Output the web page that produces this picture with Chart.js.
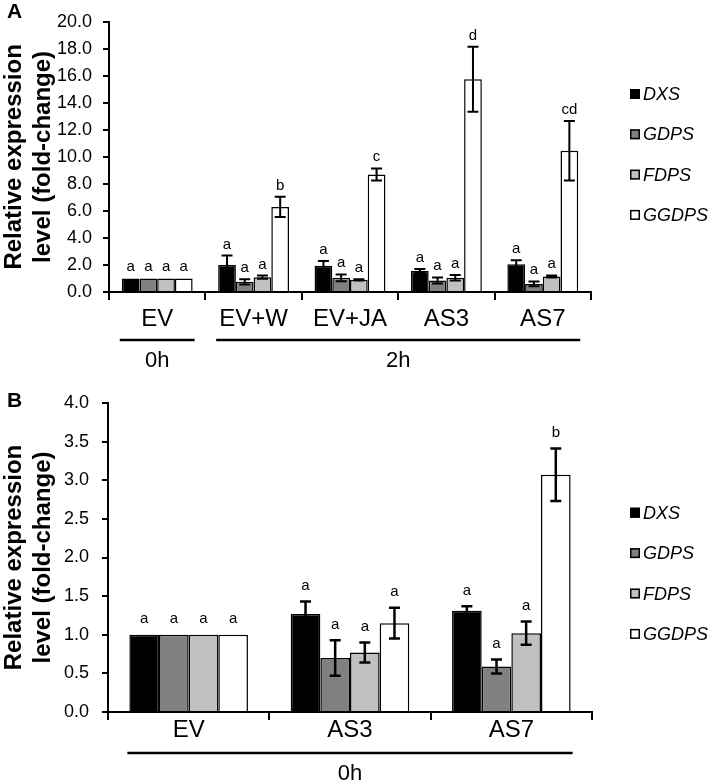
<!DOCTYPE html>
<html>
<head>
<meta charset="utf-8">
<script src="https://cdn.jsdelivr.net/npm/chart.js@4.4.1/dist/chart.umd.min.js"></script>
<style>
  body { margin: 0; background: #fff; }
  canvas { display: block; }
</style>
</head>
<body>
<canvas id="chartA" width="711" height="375"></canvas>
<canvas id="chartB" width="711" height="408"></canvas>
<script>
// genes (series) shared by both panels
const genes = ['DXS', 'GDPS', 'FDPS', 'GGDPS'];
const geneColors = ['#000000', '#808080', '#c0c0c0', '#ffffff'];

// Panel A
const catsA = ['EV', 'EV+W', 'EV+JA', 'AS3', 'AS7'];
const dxsA = [1.0, 2.0, 1.95, 1.55, 2.05];
const gdpsA = [1.0, 0.75, 1.05, 0.85, 0.6];
const fdpsA = [1.0, 1.1, 0.9, 1.05, 1.15];
const ggdpsA = [1.0, 6.3, 8.7, 15.75, 10.45];
const dxsErrA = [0, 0.7, 0.35, 0.15, 0.3];
const gdpsErrA = [0, 0.2, 0.25, 0.23, 0.18];
const fdpsErrA = [0, 0.12, 0.05, 0.2, 0.08];
const ggdpsErrA = [0, 0.75, 0.45, 2.4, 2.2];
const dxsLetA = ['a', 'a', 'a', 'a', 'a'];
const gdpsLetA = ['a', 'a', 'a', 'a', 'a'];
const fdpsLetA = ['a', 'a', 'a', 'a', 'a'];
const ggdpsLetA = ['a', 'b', 'c', 'd', 'cd'];
const groupNamesA = ['0h', '2h'];
const groupFromA = [0, 1];
const groupToA = [0, 4];

// Panel B
const catsB = ['EV', 'AS3', 'AS7'];
const dxsB = [1.0, 1.27, 1.31];
const gdpsB = [1.0, 0.7, 0.59];
const fdpsB = [1.0, 0.77, 1.02];
const ggdpsB = [1.0, 1.15, 3.07];
const dxsErrB = [0, 0.16, 0.06];
const gdpsErrB = [0, 0.23, 0.09];
const fdpsErrB = [0, 0.13, 0.15];
const ggdpsErrB = [0, 0.2, 0.34];
const dxsLetB = ['a', 'a', 'a'];
const gdpsLetB = ['a', 'a', 'a'];
const fdpsLetB = ['a', 'a', 'a'];
const ggdpsLetB = ['a', 'a', 'b'];
const groupNamesB = ['0h'];
const groupFromB = [0];
const groupToB = [2];

const FONT = "'Liberation Sans', Arial, Helvetica, sans-serif";
Chart.defaults.font.family = FONT;
Chart.defaults.color = '#000';

// error bars, significance letters, group lines, legend and panel letter
const extrasPlugin = {
  id: 'extras',
  afterDatasetsDraw(chart, args, opts) {
    const ctx = chart.ctx;
    const yScale = chart.scales.y;
    const area = chart.chartArea;
    ctx.save();

    chart.data.datasets.forEach((ds, di) => {
      const meta = chart.getDatasetMeta(di);
      meta.data.forEach((bar, i) => {
        const v = ds.data[i];
        const e = ds.errors[i];
        let top = yScale.getPixelForValue(v);
        if (e > 0) {
          const yHi = yScale.getPixelForValue(v + e);
          const yLo = yScale.getPixelForValue(v - e);
          ctx.strokeStyle = '#000';
          ctx.lineWidth = opts.errWidth;
          ctx.beginPath();
          ctx.moveTo(bar.x, yHi); ctx.lineTo(bar.x, yLo);
          ctx.moveTo(bar.x - opts.cap, yHi); ctx.lineTo(bar.x + opts.cap, yHi);
          ctx.moveTo(bar.x - opts.cap, yLo); ctx.lineTo(bar.x + opts.cap, yLo);
          ctx.stroke();
          top = yHi;
        }
        ctx.fillStyle = '#000';
        ctx.font = '15px ' + FONT;
        ctx.textAlign = 'center';
        ctx.textBaseline = 'alphabetic';
        ctx.fillText(ds.letters[i], bar.x, top - opts.letterGap);
      });
    });

    // time point groups under the category labels
    const first = chart.getDatasetMeta(0).data;
    const last = chart.getDatasetMeta(chart.data.datasets.length - 1).data;
    opts.groups.names.forEach((name, g) => {
      const b0 = first[opts.groups.from[g]];
      const b1 = last[opts.groups.to[g]];
      const x0 = b0.x - b0.width / 2 - 2;
      const x1 = b1.x + b1.width / 2 + 2;
      const ly = area.bottom + opts.groupLine;
      ctx.strokeStyle = '#000';
      ctx.lineWidth = 2.5;
      ctx.beginPath();
      ctx.moveTo(x0, ly); ctx.lineTo(x1, ly);
      ctx.stroke();
      ctx.font = '22px ' + FONT;
      ctx.textAlign = 'center';
      ctx.textBaseline = 'middle';
      ctx.fillText(name, (x0 + x1) / 2, area.bottom + opts.groupText);
    });

    // legend
    chart.data.datasets.forEach((ds, di) => {
      const cy = opts.legendY + di * opts.legendStep;
      ctx.fillStyle = ds.backgroundColor;
      ctx.fillRect(opts.legendX, cy - 5, 10, 10);
      ctx.strokeStyle = '#000';
      ctx.lineWidth = 1.5;
      ctx.strokeRect(opts.legendX + 0.75, cy - 4.25, 8.5, 8.5);
      ctx.fillStyle = '#000';
      ctx.font = 'italic 18px ' + FONT;
      ctx.textAlign = 'left';
      ctx.textBaseline = 'middle';
      ctx.fillText(ds.label, opts.legendX + 13, cy + 1);
    });

    // panel letter
    ctx.font = 'bold 21px ' + FONT;
    ctx.textAlign = 'left';
    ctx.textBaseline = 'middle';
    ctx.fillText(opts.panel, 7, opts.panelY);

    ctx.restore();
  }
};

function makeChart(id, cats, values, errors, letters, yMax, yStep, cfg) {
  const datasets = genes.map((g, i) => ({
    label: g,
    data: values[i],
    errors: errors[i],
    letters: letters[i],
    backgroundColor: geneColors[i],
    borderColor: '#000',
    borderWidth: 1.5,
    categoryPercentage: 0.735,
    barPercentage: 1.0
  }));
  return new Chart(document.getElementById(id), {
    type: 'bar',
    data: { labels: cats, datasets: datasets },
    plugins: [extrasPlugin],
    options: {
      responsive: false,
      animation: false,
      devicePixelRatio: 1,
      layout: { padding: { top: cfg.padTop, right: cfg.padRight, left: 0, bottom: 0 } },
      plugins: {
        legend: { display: false },
        tooltip: { enabled: false },
        extras: cfg.extras
      },
      scales: {
        x: {
          afterFit: s => { s.height = cfg.xHeight; },
          grid: { offset: true, drawOnChartArea: false, drawTicks: true, tickLength: 8, color: '#000', lineWidth: 2 },
          border: { display: true, color: '#000', width: 2 },
          ticks: { font: { size: 24 }, color: '#000', padding: cfg.xPad, maxRotation: 0, autoSkip: false }
        },
        y: {
          min: 0,
          max: yMax,
          afterFit: s => { s.width = cfg.yWidth; },
          grid: { drawOnChartArea: false, drawTicks: true, tickLength: 6, color: '#000', lineWidth: 2 },
          border: { display: true, color: '#000', width: 2 },
          ticks: {
            stepSize: yStep,
            font: { size: 18 },
            color: '#000',
            padding: cfg.yPad,
            callback: v => Number(v).toFixed(1)
          },
          title: {
            display: true,
            text: ['Relative expression', 'level (fold-change)'],
            font: { size: 24, weight: 'bold', lineHeight: 1.2 },
            color: '#000',
            padding: { top: 0, bottom: 0 }
          }
        }
      }
    }
  });
}

makeChart('chartA', catsA,
  [dxsA, gdpsA, fdpsA, ggdpsA],
  [dxsErrA, gdpsErrA, fdpsErrA, ggdpsErrA],
  [dxsLetA, gdpsLetA, fdpsLetA, ggdpsLetA],
  20, 2,
  {
    padTop: 12, padRight: 120, xHeight: 83, xPad: 5, yWidth: 109, yPad: 11,
    extras: {
      errWidth: 2, cap: 5.5, letterGap: 7,
      groups: { names: groupNamesA, from: groupFromA, to: groupToA },
      groupLine: 48, groupText: 69,
      legendX: 630, legendY: 94, legendStep: 40.3,
      panel: 'A', panelY: 12
    }
  });

makeChart('chartB', catsB,
  [dxsB, gdpsB, fdpsB, ggdpsB],
  [dxsErrB, gdpsErrB, fdpsErrB, ggdpsErrB],
  [dxsLetB, gdpsLetB, fdpsLetB, ggdpsLetB],
  4, 0.5,
  {
    padTop: 28, padRight: 119, xHeight: 71, xPad: -4, yWidth: 108, yPad: 13,
    extras: {
      errWidth: 2.5, cap: 5.5, letterGap: 11.5,
      groups: { names: groupNamesB, from: groupFromB, to: groupToB },
      groupLine: 41, groupText: 62,
      legendX: 630, legendY: 137.7, legendStep: 40.4,
      panel: 'B', panelY: 26
    }
  });
</script>
</body>
</html>
